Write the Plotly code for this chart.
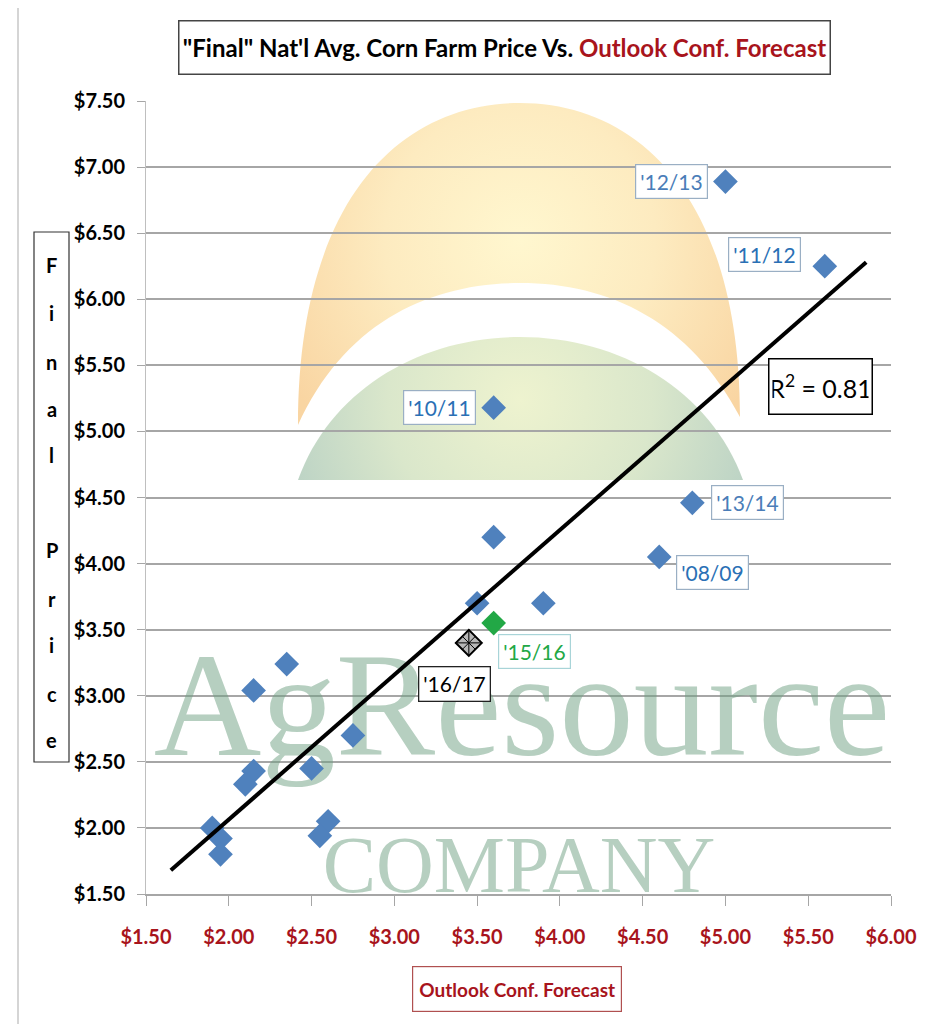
import base64
import plotly.graph_objects as go

# ---------------- data ----------------
forecast = [5.00, 5.60, 3.60, 4.80, 4.60, 3.60, 3.50, 3.90, 2.35, 2.15,
            2.75, 2.50, 2.15, 2.10, 2.60, 2.55, 1.90, 1.95, 1.95]
final = [6.89, 6.25, 5.18, 4.46, 4.05, 4.20, 3.70, 3.70, 3.24, 3.04,
         2.70, 2.45, 2.43, 2.33, 2.05, 1.94, 2.00, 1.92, 1.80]
season = ["'12/13", "'11/12", "'10/11", "'13/14", "'08/09", "", "", "", "", "",
          "", "", "", "", "", "", "", "", ""]

green_x = [3.60]
green_y = [3.55]
green_label = ["'15/16"]

cur_x = [3.45]
cur_y = [3.40]
cur_label = ["'16/17"]

# linear trend line end points as drawn in the chart
trend_x = [1.65, 5.85]
trend_y = [1.68, 6.28]
r2_text = "R<sup>2</sup> = 0.81"

x_ticks = [1.5, 2.0, 2.5, 3.0, 3.5, 4.0, 4.5, 5.0, 5.5, 6.0]
x_ticktext = ["$1.50", "$2.00", "$2.50", "$3.00", "$3.50", "$4.00", "$4.50", "$5.00", "$5.50", "$6.00"]
y_ticks = [1.5, 2.0, 2.5, 3.0, 3.5, 4.0, 4.5, 5.0, 5.5, 6.0, 6.5, 7.0, 7.5]
y_ticktext = ["$1.50", "$2.00", "$2.50", "$3.00", "$3.50", "$4.00", "$4.50",
              "$5.00", "$5.50", "$6.00", "$6.50", "$7.00", "$7.50"]

# ---------------- layout geometry (page pixels) ----------------
OX, OY = 8, 8            # default page margin of the html body
PAGE_W, PAGE_H = 933, 1024
W, H = PAGE_W - OX, PAGE_H - OY
LEFT, RIGHT, TOP, BOTTOM = 146, 891, 101, 894   # plot area in page pixels
ML, MR, MT, MB = LEFT - OX, PAGE_W - RIGHT, TOP - OY, PAGE_H - BOTTOM
PW, PH = RIGHT - LEFT, BOTTOM - TOP


def px(xp):
    return (xp - LEFT) / PW


def py(yp):
    return (BOTTOM - yp) / PH


def dx(xp):
    return 1.5 + px(xp) * 4.5


def dy(yp):
    return 1.5 + py(yp) * 6.0


FONT = "Lato"
RED = "#A8141C"

fig = go.Figure()

# watermark text (decorative, beneath the data)
fig.add_trace(go.Scatter(
    x=[dx(522)], y=[dy(718)], mode="text", text=["AgResource"],
    textfont=dict(family="Liberation Serif", size=149, color="rgba(110,160,130,0.5)"),
    hoverinfo="skip", showlegend=False, cliponaxis=False))
fig.add_trace(go.Scatter(
    x=[dx(519)], y=[dy(872)], mode="text", text=["COMPANY"],
    textfont=dict(family="Liberation Serif", size=80, color="rgba(110,160,130,0.5)"),
    hoverinfo="skip", showlegend=False, cliponaxis=False))

# data
fig.add_trace(go.Scatter(
    x=forecast, y=final, mode="markers",
    marker=dict(symbol="diamond", size=19, color="#4F81BD", line=dict(width=0)),
    hoverinfo="skip", showlegend=False))
fig.add_trace(go.Scatter(
    x=green_x, y=green_y, mode="markers",
    marker=dict(symbol="diamond", size=19, color="#22A846", line=dict(width=0)),
    hoverinfo="skip", showlegend=False))
fig.add_trace(go.Scatter(
    x=cur_x, y=cur_y, mode="markers",
    marker=dict(symbol="diamond", size=20, color="#B8B8B8", line=dict(width=2, color="black")),
    hoverinfo="skip", showlegend=False))
fig.add_trace(go.Scatter(
    x=cur_x, y=cur_y, mode="markers",
    marker=dict(symbol="diamond-cross-open", size=20, color="black", line=dict(width=1, color="black")),
    hoverinfo="skip", showlegend=False))
fig.add_trace(go.Scatter(
    x=cur_x, y=cur_y, mode="markers",
    marker=dict(symbol="diamond-x-open", size=20, color="black", line=dict(width=1, color="black")),
    hoverinfo="skip", showlegend=False))

fig.add_trace(go.Scatter(
    x=trend_x, y=trend_y, mode="lines",
    line=dict(color="black", width=4), hoverinfo="skip", showlegend=False))

# ---------------- decorative sun logo (background image, no text) ----------------
svg = """<svg xmlns="http://www.w3.org/2000/svg" width="480" height="395" viewBox="280 95 480 395">
<defs>
<radialGradient id="o" cx="520" cy="240" r="270" gradientUnits="userSpaceOnUse">
<stop offset="0" stop-color="#FFF7CF"/><stop offset="0.5" stop-color="#FDEBC0"/><stop offset="1" stop-color="#F9D5A2"/>
</radialGradient>
<radialGradient id="g" cx="520" cy="400" r="240" gradientUnits="userSpaceOnUse">
<stop offset="0" stop-color="#EEF3CF"/><stop offset="0.55" stop-color="#DAE7CB"/><stop offset="1" stop-color="#BCD3C5"/>
</radialGradient>
</defs>
<path d="M298,425 C298,200 400,103 520,103 C640,103 740,200 740,417 C690,322 610,283 520,283 C430,283 345,322 298,425 Z" fill="url(#o)"/>
<path d="M298,480 C330,390 420,337 520,337 C620,337 710,390 743,480 Z" fill="url(#g)"/>
</svg>"""
svg_uri = "data:image/svg+xml;base64," + base64.b64encode(svg.encode()).decode()

# ---------------- shapes ----------------
shapes = [
    dict(type="rect", xref="paper", yref="paper",
         x0=px(34), x1=px(69), y0=py(762), y1=py(232),
         line=dict(color="#333333", width=1.2), fillcolor="white"),
    dict(type="rect", xref="paper", yref="paper",
         x0=px(18), x1=px(929), y0=py(1030), y1=py(2),
         line=dict(color="#C8C8C8", width=1.5)),
]

# ---------------- annotations ----------------
ann = []
ann.append(dict(
    xref="paper", yref="paper", x=px(504), y=py(47), xanchor="center", yanchor="middle",
    showarrow=False,
    text='<b>"Final" Nat\'l Avg. Corn Farm Price Vs. <span style="color:%s">Outlook Conf. Forecast</span></b>' % RED,
    font=dict(family=FONT, size=24, color="black"),
    bordercolor="#444444", borderwidth=1.5, bgcolor="white",
    width=646, height=48, borderpad=2))
ann.append(dict(
    xref="paper", yref="paper", x=px(517), y=py(989), xanchor="center", yanchor="middle",
    showarrow=False,
    text="<b>Outlook Conf. Forecast</b>", font=dict(family=FONT, size=19, color=RED),
    bordercolor="#B05050", borderwidth=1.2, bgcolor="white",
    width=204, height=40, borderpad=2))

letters = ["F", "i", "n", "a", "l", "P", "r", "i", "c", "e"]
letter_y = [265, 313, 362, 409, 455, 550, 599, 645, 694, 740]
for ch, ly in zip(letters, letter_y):
    ann.append(dict(xref="paper", yref="paper", x=px(51.5), y=py(ly),
                    xanchor="center", yanchor="middle", showarrow=False,
                    text="<b>%s</b>" % ch, font=dict(family=FONT, size=20, color="black")))

ann.append(dict(
    xref="paper", yref="paper", x=px(820), y=py(387), xanchor="center", yanchor="middle",
    showarrow=False, text=r2_text, font=dict(family=FONT, size=25, color="black"),
    bordercolor="black", borderwidth=1.5, bgcolor="white",
    width=96, height=48, borderpad=3))

label_offsets = {
    "'12/13": (-54, 0), "'11/12": (-60, 12), "'10/11": (-54, 0),
    "'13/14": (55, 0), "'08/09": (53, -16),
}
label_colors = {
    "'12/13": "#4A7DB8", "'11/12": "#2A70B5", "'10/11": "#2A70B5",
    "'13/14": "#4A7DB8", "'08/09": "#2A70B5",
}
for xv, yv, lab in zip(forecast, final, season):
    if not lab:
        continue
    ox, oy = label_offsets[lab]
    ann.append(dict(xref="x", yref="y", x=xv, y=yv, xshift=ox, yshift=oy,
                    xanchor="center", yanchor="middle", showarrow=False,
                    text=lab, font=dict(family=FONT, size=21, color=label_colors[lab]),
                    bgcolor="white", bordercolor="#9AAFC4", borderwidth=1.2, borderpad=4))
for xv, yv, lab in zip(green_x, green_y, green_label):
    ann.append(dict(xref="x", yref="y", x=xv, y=yv, xshift=41, yshift=-28,
                    xanchor="center", yanchor="middle", showarrow=False,
                    text=lab, font=dict(family=FONT, size=21, color="#22A846"),
                    bgcolor="white", bordercolor="#A8D4D8", borderwidth=1.2, borderpad=4))
for xv, yv, lab in zip(cur_x, cur_y, cur_label):
    ann.append(dict(xref="x", yref="y", x=xv, y=yv, xshift=-14, yshift=-41,
                    xanchor="center", yanchor="middle", showarrow=False,
                    text=lab, font=dict(family=FONT, size=21, color="black"),
                    bgcolor="white", bordercolor="#222222", borderwidth=1.3, borderpad=4))

fig.update_layout(
    width=W, height=H,
    margin=dict(l=ML, r=MR, t=MT, b=MB, pad=0),
    paper_bgcolor="white", plot_bgcolor="rgba(0,0,0,0)",
    showlegend=False, hovermode=False,
    shapes=shapes, annotations=ann,
    images=[dict(source=svg_uri, xref="paper", yref="paper",
                 x=px(280), y=py(95), sizex=px(760) - px(280), sizey=py(95) - py(490),
                 xanchor="left", yanchor="top", sizing="stretch", layer="below", opacity=1)],
    xaxis=dict(range=[1.5, 6.0], tickvals=x_ticks, ticktext=x_ticktext,
               showgrid=False, zeroline=False,
               showline=True, linecolor="#A6A6A6", linewidth=1.5,
               ticks="outside", ticklen=10, tickcolor="#A6A6A6", tickwidth=1,
               ticklabelstandoff=14,
               tickfont=dict(family=FONT, size=20, color=RED, weight="bold")),
    yaxis=dict(range=[1.5, 7.5], tickvals=y_ticks, ticktext=y_ticktext,
               showgrid=True, gridcolor="#A6A6A6", gridwidth=1.5, zeroline=False,
               showline=True, linecolor="#BFBFBF", linewidth=1,
               ticks="outside", ticklen=8, tickcolor="#A6A6A6", tickwidth=1,
               ticklabelstandoff=8,
               tickfont=dict(family=FONT, size=20, color="black", weight="bold")),
)

fig.write_html("out.html")
